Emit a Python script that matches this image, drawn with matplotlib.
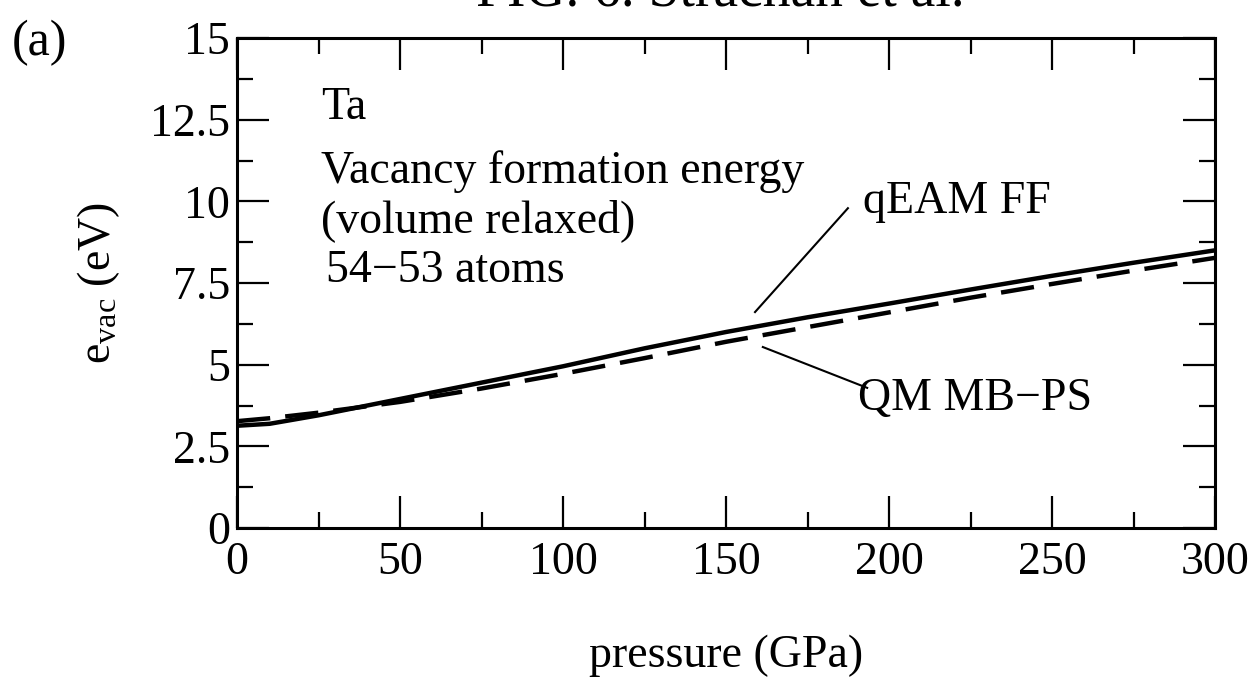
import matplotlib
matplotlib.use("Agg")
import matplotlib.pyplot as plt
from matplotlib.ticker import MultipleLocator, FuncFormatter

# values
pressure = [0, 10, 25, 50, 75, 100, 125, 150, 175, 200, 225, 250, 275, 300]
qeam_ff = [3.13, 3.19, 3.45, 3.95, 4.45, 4.95, 5.50, 6.00, 6.45, 6.87, 7.30, 7.72, 8.12, 8.50]
qm_mbps = [3.27, 3.36, 3.53, 3.86, 4.27, 4.72, 5.20, 5.70, 6.15, 6.60, 7.05, 7.47, 7.88, 8.27]

plt.rcParams["font.family"] = ["Liberation Serif", "DejaVu Serif"]
plt.rcParams["mathtext.fontset"] = "custom"
plt.rcParams["mathtext.rm"] = "Liberation Serif"
plt.rcParams["mathtext.it"] = "Liberation Serif:italic"

FS = 33

fig = plt.figure(figsize=(12.55, 6.79), dpi=100)
ax = fig.add_axes([237 / 1255, 1 - 528 / 679, (1215 - 237) / 1255, (528 - 38) / 679])

ax.plot(pressure, qeam_ff, color="black", lw=3.2, solid_capstyle="butt")
ax.plot(pressure, qm_mbps, color="black", lw=3.2, dashes=(7.5, 3.4))

ax.set_xlim(0, 300)
ax.set_ylim(0, 15)
ax.xaxis.set_major_locator(MultipleLocator(50))
ax.xaxis.set_minor_locator(MultipleLocator(25))
ax.yaxis.set_major_locator(MultipleLocator(2.5))
ax.yaxis.set_minor_locator(MultipleLocator(1.25))
ax.yaxis.set_major_formatter(FuncFormatter(lambda v, p: f"{v:g}"))

ax.tick_params(which="both", direction="in", top=True, right=True, width=1.6)
ax.tick_params(which="major", length=23, labelsize=FS)
ax.tick_params(which="minor", length=11.5)
ax.tick_params(axis="x", which="major", pad=10)
ax.tick_params(axis="y", which="major", pad=5)
for s in ax.spines.values():
    s.set_linewidth(2.2)

ax.set_xlabel("pressure (GPa)", fontsize=FS, labelpad=36)
ax.set_ylabel(r"e$_{\rm vac}$ (eV)", fontsize=FS, labelpad=20)

# annotations
ax.text(25.8, 12.53, "Ta", fontsize=FS)
ax.text(25.8, 10.56, "Vacancy formation energy", fontsize=FS)
ax.text(25.8, 9.06, "(volume relaxed)", fontsize=FS)
ax.text(27.3, 7.53, "54\u221253 atoms", fontsize=FS)

ax.plot([158.9, 187.4], [6.61, 9.79], color="black", lw=1.5)
ax.text(192.0, 9.64, "qEAM FF", fontsize=FS)
ax.plot([161.3, 193.3], [5.54, 4.29], color="black", lw=1.5)
ax.text(190.5, 3.61, "QM MB\u2212PS", fontsize=FS)

fig.text(12 / 1255, 1 - 55 / 679, "(a)", fontsize=36, ha="left", va="baseline")
# title sits partly above the top edge, as in the original scan
fig.text(720 / 1255, 1 - 5 / 679, "FIG. 6. Strachan et al.", fontsize=40,
         ha="center", va="baseline")

fig.savefig("out.png", dpi=100)
plt.close(fig)
